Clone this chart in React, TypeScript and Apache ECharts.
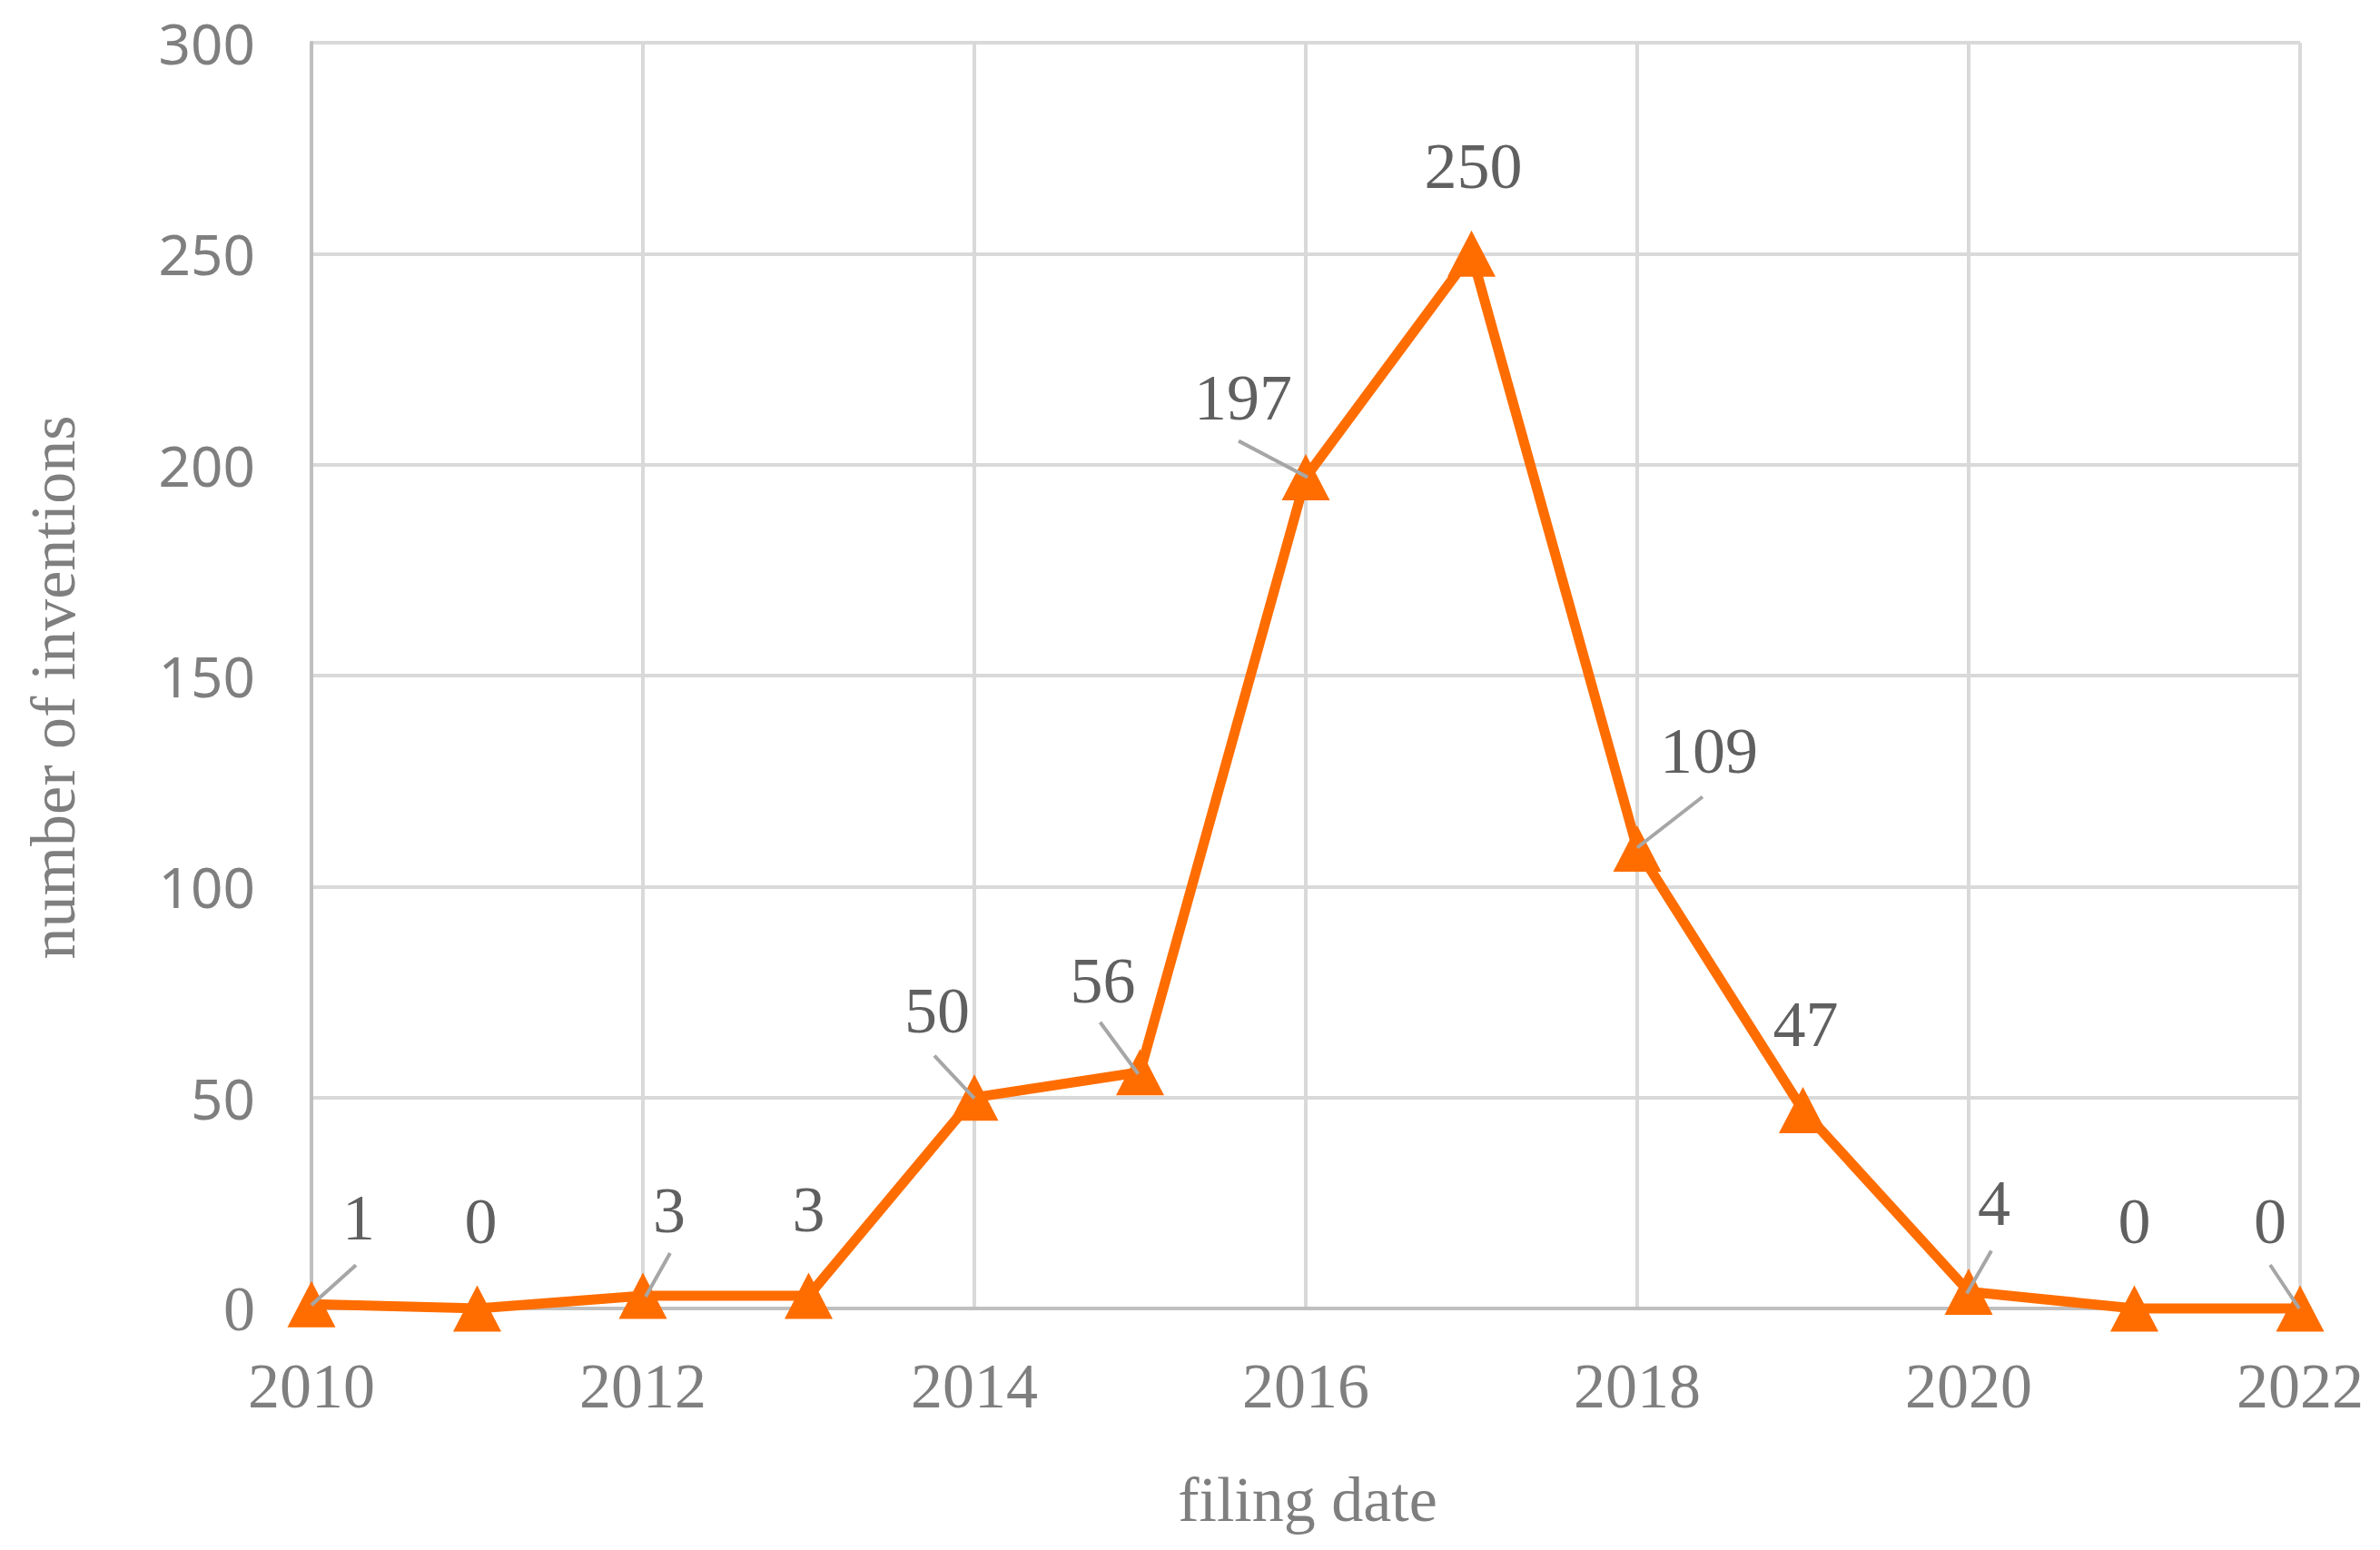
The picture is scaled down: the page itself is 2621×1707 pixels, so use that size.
import React, { useEffect, useRef } from "react";
import * as echarts from "echarts";

// ---- data ----
const years = [2010, 2011, 2012, 2013, 2014, 2015, 2016, 2017, 2018, 2019, 2020, 2021, 2022];
const inventions = [1, 0, 3, 3, 50, 56, 197, 250, 109, 47, 4, 0, 0];
const xAxisMin = 2010;
const xAxisMax = 2022;
const xAxisStep = 2;
const yAxisMin = 0;
const yAxisMax = 300;
const yAxisStep = 50;
const xTitle = "filing date";
const yTitle = "number of inventions";

// ---- label placement (pixel offsets of each data label from its point) ----
const labelOffsets: number[][] = [
  [52, -95], [4, -96], [29, -94], [0, -95], [-41, -96], [-41, -101], [-69, -88],
  [2, -96], [79, -108], [3, -95], [28, -97], [0, -96], [-33, -96],
];
// leader lines: [startDx, startDy, endDx, endDy] relative to the point, or null
const leaderLines: (number[] | null)[] = [
  [0, 1, 49, -43], null, [3, 1, 30, -47], null, [0, 1, -44, -46], [-2, 2, -44, -55],
  [2, 0, -74, -40], null, [0, -1, 72, -57], null, [-2, 2, 25, -45], null, [-1, 0, -33, -48],
];

const ORANGE = "#FF6D00";
const SERIF = "Liberation Serif";

export default function App() {
  const ref = useRef<HTMLDivElement>(null);
  useEffect(() => {
    if (!ref.current) return;
    const chart = echarts.init(ref.current, null, { renderer: "svg" });
    const lineData = years.map((y, i) => ({
      value: [y, inventions[i]],
      label: { offset: labelOffsets[i] },
    }));
    const leaderData: number[][] = [];
    years.forEach((y, i) => {
      const l = leaderLines[i];
      if (l) leaderData.push([y, inventions[i], l[0], l[1], l[2], l[3]]);
    });
    chart.setOption({
      animation: false,
      backgroundColor: "#ffffff",
      grid: { left: 343, top: 47, right: 88, bottom: 266, containLabel: false },
      xAxis: {
        type: "value",
        min: xAxisMin,
        max: xAxisMax,
        interval: xAxisStep,
        axisLine: { show: true, onZero: true, lineStyle: { color: "#BFBFBF", width: 4 } },
        axisTick: { show: false },
        splitLine: { show: true, lineStyle: { color: "#D9D9D9", width: 4 } },
        axisLabel: {
          fontFamily: SERIF,
          fontSize: 70,
          color: "#7F7F7F",
          margin: 50,
          formatter: (v: number) => String(v),
        },
      },
      yAxis: {
        type: "value",
        min: yAxisMin,
        max: yAxisMax,
        interval: yAxisStep,
        axisLine: { show: true, lineStyle: { color: "#BFBFBF", width: 4 } },
        axisTick: { show: false },
        splitLine: { show: true, lineStyle: { color: "#D9D9D9", width: 4 } },
        axisLabel: {
          fontFamily: "Noto Sans",
          fontSize: 62,
          color: "#7F7F7F",
          margin: 62,
          formatter: (v: number) => (v === 0 ? "{s|0}" : String(v)),
          rich: { s: { fontFamily: SERIF, fontSize: 70, color: "#7F7F7F" } },
        },
      },
      graphic: [
        {
          type: "text",
          x: 1440,
          y: 1651,
          style: {
            text: xTitle,
            fontFamily: SERIF,
            fontSize: 70,
            fill: "#7F7F7F",
            align: "center",
            verticalAlign: "middle",
          },
        },
        {
          type: "text",
          x: 58,
          y: 757,
          rotation: Math.PI / 2,
          style: {
            text: yTitle,
            fontFamily: SERIF,
            fontSize: 70,
            fill: "#7F7F7F",
            align: "center",
            verticalAlign: "middle",
          },
        },
      ],
      series: [
        {
          type: "line",
          data: lineData,
          clip: false,
          z: 2,
          symbol: "triangle",
          symbolSize: [53, 51],
          lineStyle: { color: ORANGE, width: 11 },
          itemStyle: { color: ORANGE },
          label: {
            show: true,
            position: "inside",
            fontFamily: SERIF,
            fontSize: 72,
            color: "#606060",
            formatter: (p: any) => String(p.value[1]),
          },
        },
        {
          type: "custom",
          data: leaderData,
          encode: { x: 0, y: 1 },
          clip: false,
          silent: true,
          z: 3,
          renderItem: (params: any, api: any) => {
            const p = api.coord([api.value(0), api.value(1)]);
            return {
              type: "line",
              shape: {
                x1: p[0] + api.value(2),
                y1: p[1] + api.value(3),
                x2: p[0] + api.value(4),
                y2: p[1] + api.value(5),
              },
              style: { stroke: "#A6A6A6", lineWidth: 4 },
            };
          },
        },
      ],
    });
    return () => chart.dispose();
  }, []);
  return (
    <div
      ref={ref}
      style={{ position: "absolute", left: 0, top: 0, width: 2621, height: 1707 }}
    />
  );
}
